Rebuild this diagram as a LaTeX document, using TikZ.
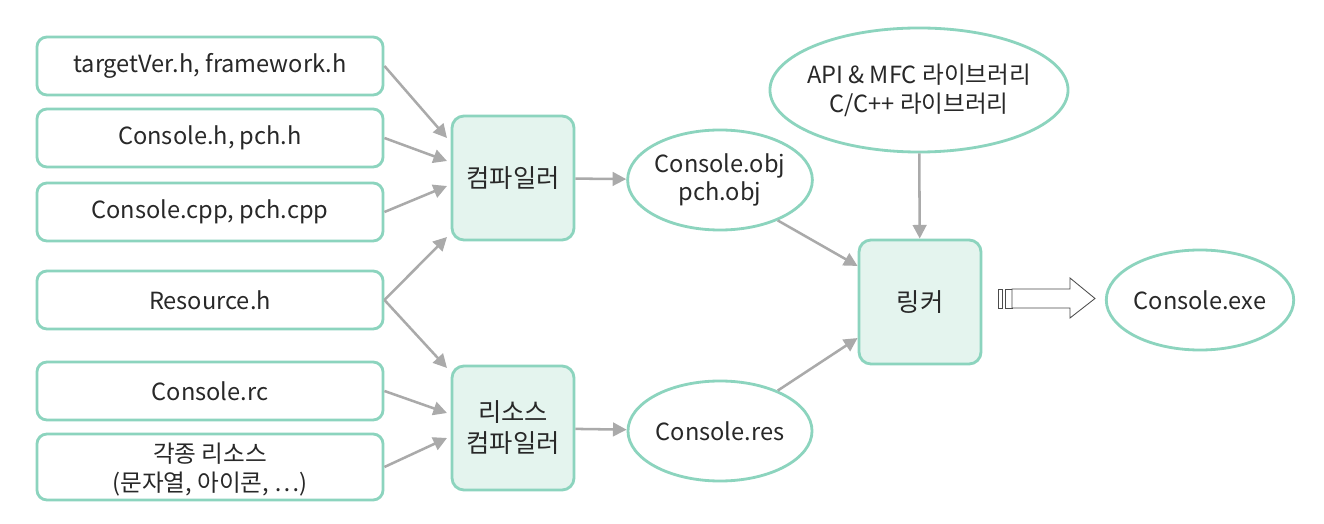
\documentclass[tikz,border=0pt]{standalone}
\usepackage{fontspec}
\setmainfont{Noto Sans CJK KR}
\usepackage{xcolor}
\usetikzlibrary{positioning, arrows.meta, shapes.geometric}

\definecolor{mint}{RGB}{140,212,190}
\definecolor{mintfill}{RGB}{228,244,238}
\definecolor{arrowgray}{RGB}{170,170,170}
\definecolor{textgray}{RGB}{40,40,40}

\begin{document}
\begin{tikzpicture}[
    x=0.025cm, y=-0.025cm,
    font=\fontsize{16.8}{20.5}\selectfont, text=textgray,
    srcbox/.style = {
        draw=mint, line width=2pt, fill=white, rounded corners=0.25cm,
        minimum width=8.65cm, minimum height=1.45cm, align=center
    },
    tool/.style = {
        draw=mint, line width=2pt, fill=mintfill, rounded corners=0.3cm,
        minimum width=3.05cm, minimum height=3.1cm, align=center,
        font=\fontsize{18}{22}\selectfont
    },
    result/.style = {
        draw=mint, line width=2pt, ellipse, minimum width=4.6cm,
        minimum height=2.5cm, inner sep=0pt, align=center
    },
    flow/.style = {
        draw=arrowgray, line width=1.8pt,
        -{Triangle[length=0.34cm, width=0.34cm]}
    }
  ]
    \useasboundingbox (0,0) rectangle (1324,524);
    \fill[white] (0,0) rectangle (1324,524);

    % 소스 파일
    \node[srcbox] (tv)  at (210,66)  {targetVer.h, framework.h};
    \node[srcbox] (ch)  at (210,138) {Console.h, pch.h};
    \node[srcbox] (cpp) at (210,212) {Console.cpp, pch.cpp};
    \node[srcbox] (rh)  at (210,300) {Resource.h};
    \node[srcbox] (rc)  at (210,391) {Console.rc};
    \node[srcbox, minimum height=1.65cm, text depth=0pt] (etc) at (210,467)
        {각종 리소스\\(문자열, 아이콘, ⋯)};

    % 컴파일러
    \node[tool] (comp)  at (513,178) {컴파일러};
    \node[tool] (rcomp) at (513,428) {리소스\\컴파일러};

    % 결과물
    \node[result] (obj) at (720,180) {Console.obj\\pch.obj};
    \node[result] (res) at (720,431) {Console.res};
    \node[result, minimum width=7.45cm, minimum height=3.1cm,
          inner xsep=-0.45cm] (lib) at (919,90)
        {API \& MFC 라이브러리\\C/C++ 라이브러리};
    \node[tool] (link) at (920,302) {링커};
    \node[result] (exe) at (1200,300) {Console.exe};

    % 화살표
    \draw[flow] (tv.east)  -- (447,138);
    \draw[flow] (ch.east)  -- (447,161);
    \draw[flow] (cpp.east) -- (447,186);
    \draw[flow] (rh.east)  -- (447,237);
    \draw[flow] (rh.east)  -- (447,368);
    \draw[flow] (rc.east)  -- (447,413);
    \draw[flow] (etc.east) -- (447,438);
    \draw[flow] (comp)  -- (obj);
    \draw[flow] (rcomp) -- (res);
    \draw[flow] (obj.-35) -- (link.150);
    \draw[flow] (res.35)  -- (link.-150);
    \draw[flow] (lib) -- (link);

    % 굵은 화살표 (링커 -> exe)
    \begin{scope}[draw=black!70, line width=0.6pt, fill=white]
      \filldraw (998,289) rectangle (1002,308);
      \filldraw (1005,289) rectangle (1012,308);
      \filldraw (1012,289) -- (1070,289) -- (1070,278) -- (1095,298.5)
        -- (1070,318) -- (1070,308) -- (1012,308) -- cycle;
    \end{scope}
\end{tikzpicture}
\end{document}
